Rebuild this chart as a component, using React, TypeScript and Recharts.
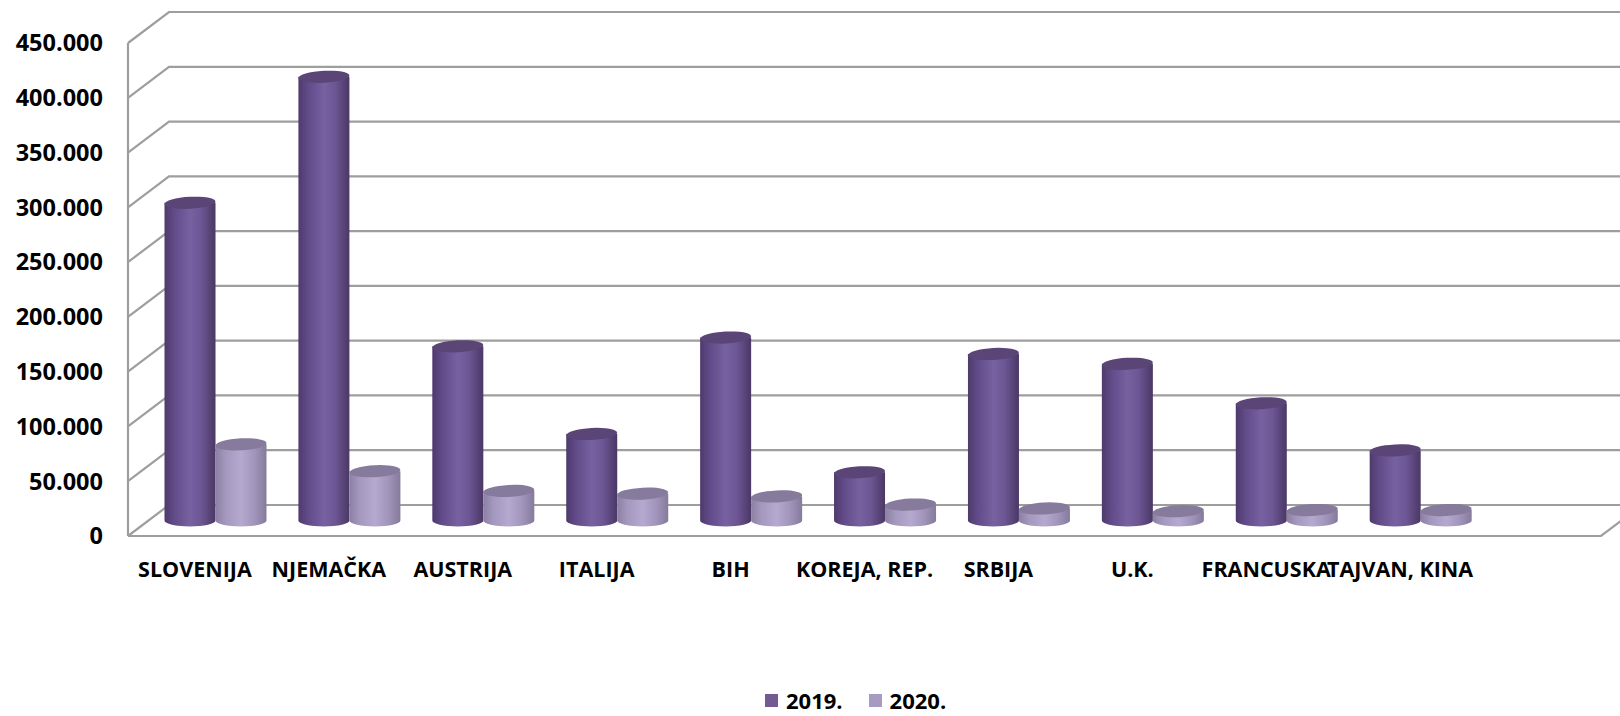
import { Bar, BarChart, CartesianGrid, Legend, XAxis, YAxis } from "recharts"

const categories = [
  "SLOVENIJA",
  "NJEMAČKA",
  "AUSTRIJA",
  "ITALIJA",
  "BIH",
  "KOREJA, REP.",
  "SRBIJA",
  "U.K.",
  "FRANCUSKA",
  "TAJVAN, KINA",
  "",
]
const values2019 = [290000, 405000, 159000, 79000, 167000, 44000, 152000, 143000, 107000, 64000, null]
const values2020 = [69500, 45000, 27000, 24500, 22000, 14500, 11000, 8500, 9500, 9500, null]
const yTicks = [0, 50000, 100000, 150000, 200000, 250000, 300000, 350000, 400000, 450000]
const seriesNames = ["2019.", "2020."]

const data = categories.map((name, i) => ({
  name,
  y2019: values2019[i],
  y2020: values2020[i],
}))

// 3D look: offset from the front wall to the back wall, bars stand half way
const DEPTH_X = 41
const DEPTH_Y = -31
const BAR_DX = DEPTH_X / 2
const BAR_DY = DEPTH_Y / 2
const GRID = "#9e9e9e"
const FONT = "'Open Sans', sans-serif"
const LEGEND_COLORS = ["#735a95", "#a89bc1"]

const gridLine = (props: any) => {
  const { x1, x2, y1, index } = props
  const by = y1 + DEPTH_Y
  let d = `M${x1},${y1} L${x1 + DEPTH_X},${by} L${x2 + DEPTH_X},${by}`
  const isFloor =
    props.y != null && props.height != null ? Math.abs(y1 - (props.y + props.height)) < 1 : index === 0
  if (isFloor) d += ` M${x1},${y1} L${x2},${y1} L${x2 + DEPTH_X},${by}`
  return <path key={`grid-${index}`} d={d} stroke={GRID} strokeWidth={2.2} fill="none" />
}

const cylinder = (gradId: string, topColor: string) => (props: any) => {
  const { x, y, width, height } = props
  if (height == null || height <= 0 || isNaN(y)) return <g />
  const rx = width / 2
  const ry = 6
  const cx = x + rx + BAR_DX
  const top = y + BAR_DY
  const bottom = y + height + BAR_DY
  const left = cx - rx
  const right = cx + rx
  const body = `M${left},${top} L${left},${bottom} A${rx},${ry} 0 0 0 ${right},${bottom} L${right},${top} Z`
  return (
    <g>
      <path d={body} fill={`url(#${gradId})`} />
      <ellipse cx={cx} cy={top} rx={rx} ry={ry} fill={topColor} transform={`rotate(-3 ${cx} ${top})`} />
    </g>
  )
}

const renderLegend = () => (
  <div
    style={{
      display: "flex",
      alignItems: "center",
      fontFamily: FONT,
      fontWeight: 700,
      fontSize: 22,
      lineHeight: "22px",
      height: 22,
    }}
  >
    {seriesNames.map((s, i) => (
      <div key={s} style={{ display: "flex", alignItems: "center", marginRight: 26 }}>
        <span style={{ width: 13, height: 13, background: LEGEND_COLORS[i], marginRight: 8 }} />
        <span style={{ color: "#000" }}>{s}</span>
      </div>
    ))}
  </div>
)

export default function App() {
  return (
    <div style={{ position: "absolute", left: 0, top: 0, width: 1620, height: 716, background: "#fff" }}>
      <BarChart
        width={1620}
        height={716}
        data={data}
        margin={{ top: 43, right: 19, bottom: 120, left: 0 }}
        barGap={0}
      >
        <defs>
          <linearGradient id="g2019" x1="0" y1="0" x2="1" y2="0">
            <stop offset="0" stopColor="#4d3a6b" />
            <stop offset="0.18" stopColor="#614a88" />
            <stop offset="0.5" stopColor="#7861a0" />
            <stop offset="0.72" stopColor="#6d5694" />
            <stop offset="1" stopColor="#4a3865" />
          </linearGradient>
          <linearGradient id="g2020" x1="0" y1="0" x2="1" y2="0">
            <stop offset="0" stopColor="#8b80a3" />
            <stop offset="0.2" stopColor="#a598be" />
            <stop offset="0.5" stopColor="#b6a9cf" />
            <stop offset="0.75" stopColor="#a396bd" />
            <stop offset="1" stopColor="#857b9b" />
          </linearGradient>
        </defs>
        <CartesianGrid vertical={false} horizontal={gridLine} />
        <XAxis
          dataKey="name"
          axisLine={false}
          tickLine={false}
          tickSize={0}
          tickMargin={26}
          interval={0}
          height={60}
          tick={{ fill: "#000", fontSize: 21.5, fontWeight: 700, fontFamily: FONT }}
        />
        <YAxis
          width={128}
          domain={[0, 450000]}
          ticks={yTicks}
          interval={0}
          axisLine={{ stroke: GRID, strokeWidth: 2.2 }}
          tickLine={false}
          tickSize={0}
          tickMargin={25}
          tickFormatter={(v: number) => v.toLocaleString("de-DE")}
          tick={{ fill: "#000", fontSize: 23.5, fontWeight: 700, fontFamily: FONT }}
        />
        <Legend
          layout="horizontal"
          verticalAlign="middle"
          align="center"
          wrapperStyle={{ top: 689, left: 765, width: 280, height: 22 }}
          content={renderLegend}
        />
        <Bar
          dataKey="y2019"
          name={seriesNames[0]}
          barSize={51}
          fill="url(#g2019)"
          shape={cylinder("g2019", "#5a4576")}
          isAnimationActive={false}
        />
        <Bar
          dataKey="y2020"
          name={seriesNames[1]}
          barSize={51}
          fill="url(#g2020)"
          shape={cylinder("g2020", "#867b9c")}
          isAnimationActive={false}
        />
      </BarChart>
    </div>
  )
}
